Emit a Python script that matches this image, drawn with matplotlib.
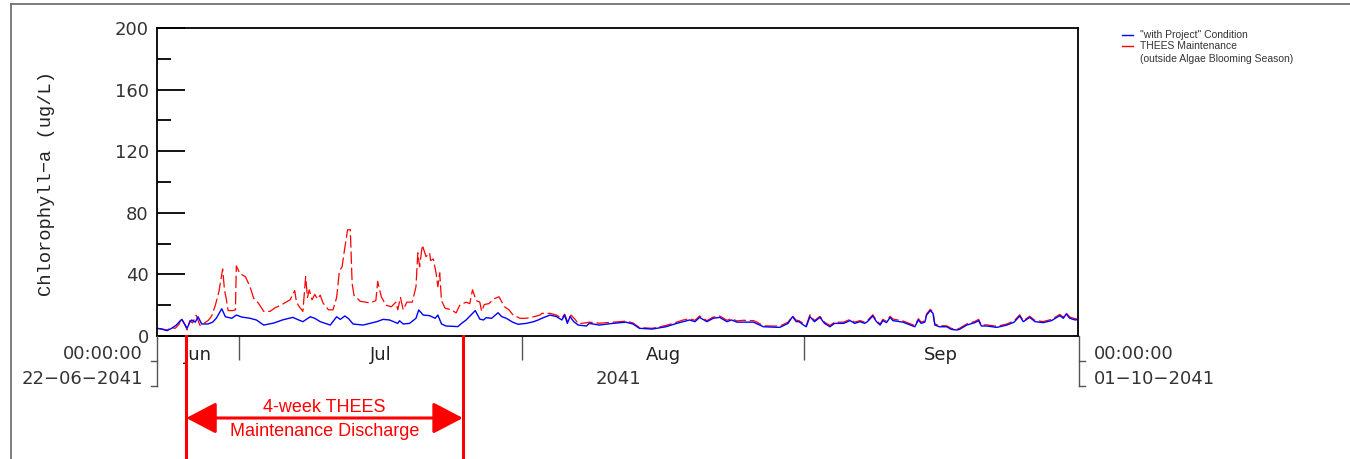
import pandas as pd
import matplotlib
matplotlib.use("Agg")
import matplotlib.pyplot as plt
import matplotlib.dates as mdates
import matplotlib.transforms as mtransforms
from matplotlib.lines import Line2D

#---------------------------------------------------
# data (days after 22-06-2041 00:00, chlorophyll-a in ug/L)
#---------------------------------------------------
START = pd.Timestamp("2041-06-22")
END = pd.Timestamp("2041-10-01")

blue_days = [0.0, 0.5, 1.1, 1.6, 2.1, 2.7, 3.0, 3.3, 3.6, 3.8, 4.2, 4.5, 4.9, 5.6, 6.1, 6.5,
             7.1, 7.5, 8.2, 8.7, 9.3, 10.2, 10.9, 11.7, 12.8, 13.8, 14.9, 15.5, 16.0, 16.8,
             17.3, 17.9, 19.0, 19.7, 20.1, 20.6, 21.0, 21.5, 22.6, 24.1, 24.8, 25.5, 26.4,
             26.6, 27.0, 27.7, 28.4, 28.7, 29.2, 29.9, 30.5, 30.8, 31.2, 31.7, 33.0, 33.4,
             33.9, 34.9, 35.4, 35.8, 36.1, 36.7, 37.4, 37.8, 38.3, 39.0, 39.6, 40.5, 41.3,
             41.8, 42.2, 43.1, 43.8, 44.4, 44.7, 45.0, 45.3, 45.7, 46.2, 47.1, 47.4, 48.5,
             50.0, 51.4, 52.2, 52.9, 54.3, 55.8, 57.0, 57.7, 58.4, 59.0, 59.5, 60.3, 61.0,
             61.7, 62.5, 63.0, 63.6, 65.4, 66.5, 68.3, 69.2, 69.7, 70.1, 70.4, 70.9, 71.2,
             71.6, 72.1, 72.7, 73.2, 73.8, 74.3, 75.3, 76.0, 76.5, 77.1, 77.6, 77.9, 78.5,
             78.9, 79.3, 79.6, 80.0, 80.4, 80.7, 81.8, 83.1, 83.5, 83.8, 84.2, 84.4, 84.8,
             85.1, 85.3, 85.8, 86.6, 87.1, 87.7, 88.0, 88.8, 89.7, 90.1, 90.4, 91.0, 92.1,
             93.2, 94.0, 94.6, 95.0, 95.7, 96.3, 97.2, 98.1, 99.0, 99.4, 99.7, 100.1, 100.7,
             101.0]
blue_chla = [5.0, 4.5, 3.5, 5.0, 7.0, 10.8, 8.0, 5.0, 9.0, 10.4, 9.0, 12.5, 7.8, 7.8, 9.0, 11.5,
             17.7, 12.5, 11.5, 13.6, 12.3, 11.5, 10.4, 7.1, 8.4, 10.5, 12.1, 10.5, 9.3, 12.5,
             11.5, 9.3, 7.1, 12.5, 10.8, 13.0, 11.3, 7.8, 7.1, 9.3, 10.8, 10.4, 8.2,
             9.9, 7.8, 8.2, 11.5, 16.9, 13.6, 13.2, 11.5, 13.6, 7.8, 6.5, 6.1, 8.2,
             10.4, 16.5, 11.0, 10.4, 11.9, 11.5, 15.1, 12.6, 11.5, 9.0, 7.6, 8.2, 9.3,
             10.4, 11.5, 13.6, 12.6, 10.4, 13.6, 8.2, 12.6, 9.3, 7.1, 6.5, 8.2, 7.1,
             8.2, 9.0, 7.8, 5.0, 4.5, 6.0, 8.2, 9.3, 10.4, 9.3, 12.1, 9.3, 11.5,
             12.1, 9.3, 10.4, 9.0, 9.0, 6.0, 5.6, 8.2, 12.6, 9.3, 9.3, 7.1, 6.0,
             12.6, 9.3, 12.1, 8.2, 6.0, 8.2, 8.2, 10.0, 8.2, 9.3, 8.2, 9.3, 13.0,
             9.3, 7.1, 10.0, 8.7, 12.1, 10.0, 9.0, 6.0, 10.4, 8.2, 9.0, 13.6, 16.5,
             14.7, 7.1, 6.0, 6.0, 4.3, 3.9, 4.3, 7.1, 8.7, 10.0, 6.5, 6.5, 5.6,
             7.1, 9.0, 13.0, 9.3, 12.1, 9.3, 8.7, 10.0, 13.2, 11.5, 14.3, 11.5, 10.4,
             10.8]

red_days = [0.0, 0.6, 1.1, 1.5, 2.0, 2.4, 2.7, 3.0, 3.3, 3.6, 3.9, 4.3, 4.7, 5.2, 5.6, 6.0,
            6.4, 6.8, 7.2, 7.4, 7.6, 7.8, 8.3, 8.6, 8.7, 9.1, 9.7, 10.2, 10.6, 11.1, 11.7,
            12.4, 13.0, 13.6, 14.0, 14.6, 15.1, 15.3, 15.6, 16.0, 16.3, 16.5, 16.7, 17.0,
            17.3, 17.6, 17.9, 18.2, 18.8, 19.3, 19.7, 20.0, 20.3, 20.5, 20.9, 21.2, 21.4,
            21.6, 22.3, 23.4, 24.0, 24.2, 24.6, 25.1, 25.7, 26.2, 26.4, 26.7, 27.0, 27.4,
            28.0, 28.4, 28.6, 28.8, 29.1, 29.5, 29.9, 30.0, 30.3, 30.6, 30.8, 31.0, 31.2,
            31.6, 32.3, 32.8, 33.2, 33.9, 34.3, 34.6, 35.0, 35.4, 35.6, 35.9, 36.4, 36.9,
            37.5, 38.1, 38.6, 39.0, 39.8, 40.5, 41.4, 42.0, 42.2, 43.1, 43.8, 44.4, 44.7,
            45.0, 45.4, 45.9, 46.2, 47.1, 47.4, 48.5, 50.0, 51.4, 52.2, 52.9, 54.3, 55.8,
            57.0, 57.7, 58.4, 59.0, 59.5, 60.3, 61.0, 61.7, 62.5, 63.0, 63.6, 64.3, 65.4,
            65.8, 66.5, 68.3, 69.2, 69.7, 70.1, 70.4, 70.9, 71.2, 71.6, 72.1, 72.7, 73.2,
            73.8, 74.3, 75.3, 76.0, 76.5, 77.1, 77.6, 77.9, 78.5, 78.9, 79.3, 79.6, 80.0,
            80.4, 80.7, 81.8, 83.1, 83.5, 83.8, 84.2, 84.4, 84.8, 85.1, 85.3, 85.8, 86.6,
            87.1, 87.7, 88.0, 88.8, 89.7, 90.1, 90.4, 91.0, 92.1, 93.2, 94.0, 94.6, 95.0,
            95.7, 96.3, 97.2, 98.1, 99.0, 99.4, 99.7, 100.1, 100.7, 101.0]
red_chla = [5.0, 4.5, 3.8, 5.5, 5.0, 7.5, 11.5, 8.0, 4.0, 10.0, 8.5, 13.5, 7.0, 8.5, 10.0, 13.0,
            20.0, 29.0, 43.5, 30.0, 24.0, 16.5, 16.5, 17.0, 45.5, 40.5, 38.5, 32.0, 24.5, 21.5, 16.0,
            16.0, 18.5, 20.0, 21.5, 23.5, 29.5, 22.0, 19.0, 16.0, 38.5, 25.0, 30.0, 23.5,
            27.0, 24.0, 26.5, 21.5, 17.0, 17.0, 25.0, 42.0, 45.0, 53.5, 69.0, 69.0, 34.0,
            26.5, 22.5, 21.5, 23.0, 35.5, 25.5, 20.0, 19.0, 22.0, 17.0, 25.0, 17.0, 22.0,
            22.0, 32.0, 54.0, 45.0, 59.0, 51.5, 54.0, 49.0, 50.0, 41.0, 32.0, 41.0, 23.0,
            18.0, 17.0, 15.0, 20.0, 22.0, 21.0, 30.0, 23.0, 22.0, 16.0, 20.5, 21.0, 24.0,
            25.5, 19.0, 17.0, 14.0, 11.5, 11.5, 12.6, 13.6, 14.7, 14.7, 13.6, 11.5, 14.2,
            9.5, 13.6, 10.4, 8.0, 8.6, 9.0, 8.3, 9.0, 9.6, 8.5, 5.5, 5.0, 6.8,
            9.0, 10.4, 11.2, 10.2, 13.0, 10.0, 12.3, 13.0, 10.2, 11.2, 9.8, 10.2, 10.0,
            9.0, 6.6, 6.4, 9.0, 13.0, 10.2, 10.0, 8.0, 6.8, 13.8, 10.0, 12.8, 9.0,
            6.8, 9.0, 9.0, 10.8, 9.0, 10.0, 9.0, 10.0, 13.8, 10.0, 7.8, 10.8, 9.5,
            12.8, 11.0, 9.8, 6.8, 11.2, 9.0, 9.8, 14.4, 17.3, 15.5, 7.8, 6.8, 6.6,
            5.0, 4.2, 5.0, 7.8, 9.5, 10.8, 7.2, 7.2, 6.3, 7.8, 9.8, 13.8, 10.0,
            12.8, 10.0, 9.4, 10.8, 14.0, 12.2, 15.0, 12.3, 11.2, 11.5]

month_names = ["Jun", "Jul", "Aug", "Sep"]
month_mids = ["2041-06-26 12:00", "2041-07-16 12:00", "2041-08-16 12:00", "2041-09-16 00:00"]
month_edges = ["2041-07-01", "2041-08-01", "2041-09-01"]
discharge_start = "2041-06-25 05:00"
discharge_end = "2041-07-25 13:00"
y_major = [0, 40, 80, 120, 160, 200]
y_minor = [20, 60, 100, 140, 180]

W, H = 1350, 459


def fx(px):
    return px / W


def fy(py):
    return 1 - py / H


blue_t = START + pd.to_timedelta(blue_days, unit="D")
red_t = START + pd.to_timedelta(red_days, unit="D")

fig = plt.figure(figsize=(W / 100, H / 100), dpi=100)
ax = fig.add_axes([fx(157), fy(336), (1078 - 157) / W, (336 - 28) / H])

ax.plot(red_t, red_chla, color="#ff0000", lw=0.9, dashes=(10, 3))
ax.plot(blue_t, blue_chla, color="#0000ff", lw=1.0)

ax.set_xlim(START, END)
ax.set_ylim(0, 200)
for s in ax.spines.values():
    s.set_linewidth(1.3)
    s.set_color("black")

ax.set_yticks(y_major)
ax.set_yticks(y_minor, minor=True)
ax.tick_params(axis="y", which="major", direction="in", length=20, width=1.3,
               labelsize=13, labelcolor="#333333", pad=6)
ax.tick_params(axis="y", which="minor", direction="in", length=10, width=1.3)

ax.set_xticks(pd.to_datetime(month_edges))
ax.set_xticklabels([""] * len(month_edges))
ax.set_xticks(pd.to_datetime(month_mids), minor=True)
ax.set_xticklabels(month_names, minor=True)
ax.tick_params(axis="x", which="major", direction="out", length=17, width=1.0, color="#555555")
ax.tick_params(axis="x", which="minor", length=0, labelsize=13, labelcolor="#222222", pad=7)

# time brackets at both ends
grey = "#555555"
for xa, sgn in [(157, -1), (1079, 1)]:
    fig.add_artist(Line2D([fx(xa), fx(xa)], [fy(336), fy(386)], color=grey, lw=1.0))
    for yy in (361, 386):
        fig.add_artist(Line2D([fx(xa), fx(xa + 6 * sgn)], [fy(yy), fy(yy)], color=grey, lw=1.0))

txt = dict(fontsize=13, color="#333333", va="center")
fig.text(fx(143), fy(354), "00:00:00", ha="right", **txt)
fig.text(fx(143), fy(379), "22\u221206\u22122041", ha="right", **txt)
fig.text(fx(618), fy(379), "2041", ha="center", **txt)
fig.text(fx(1094), fy(354), "00:00:00", ha="left", **txt)
fig.text(fx(1094), fy(379), "01\u221210\u22122041", ha="left", **txt)

fig.text(fx(47), fy(183), "Chlorophyll\u2212a (ug/L)", rotation=90, ha="center", va="center",
         fontsize=13.5, color="#222222", family=["Liberation Mono", "DejaVu Sans Mono"])

# maintenance discharge window
t0 = mdates.date2num(pd.Timestamp(discharge_start))
t1 = mdates.date2num(pd.Timestamp(discharge_end))
blend = mtransforms.blended_transform_factory(ax.transData, fig.transFigure)
for t in (t0, t1):
    fig.add_artist(Line2D([t, t], [fy(336), 0], transform=blend, color="#ff0000", lw=2.2))
ax.annotate("", xy=(t1, fy(418)), xytext=(t0, fy(418)), xycoords=blend, textcoords=blend,
            arrowprops=dict(arrowstyle="<|-|>,head_length=1.85,head_width=0.97", color="#ff0000",
                            lw=2.2, shrinkA=0, shrinkB=0, mutation_scale=10),
            annotation_clip=False)
tm = (t0 + t1) / 2
rtxt = dict(transform=blend, ha="center", va="center", color="#ff0000", fontsize=13,
            family=["Liberation Sans", "DejaVu Sans"])
fig.text(tm, fy(407), "4-week THEES", **rtxt)
fig.text(tm, fy(432), "Maintenance Discharge", **rtxt)

# legend
ltxt = dict(fontsize=7.5, color="#333333", va="center", family=["Liberation Sans", "DejaVu Sans"])
fig.add_artist(Line2D([fx(1122), fx(1133)], [fy(35), fy(35)], color="#0000ff", lw=1.0))
fig.add_artist(Line2D([fx(1122), fx(1133)], [fy(46), fy(46)], color="#ff0000", lw=1.0))
fig.text(fx(1140), fy(35), "\"with Project\" Condition", **ltxt)
fig.text(fx(1140), fy(46), "THEES Maintenance", **ltxt)
fig.text(fx(1140), fy(59), "(outside Algae Blooming Season)", **ltxt)

# outer frame
fig.add_artist(Line2D([fx(11), 1], [fy(4), fy(4)], color="#666666", lw=1.2))
fig.add_artist(Line2D([fx(11), fx(11)], [fy(4), 0], color="#666666", lw=1.2))

fig.savefig("out.png", dpi=100)
